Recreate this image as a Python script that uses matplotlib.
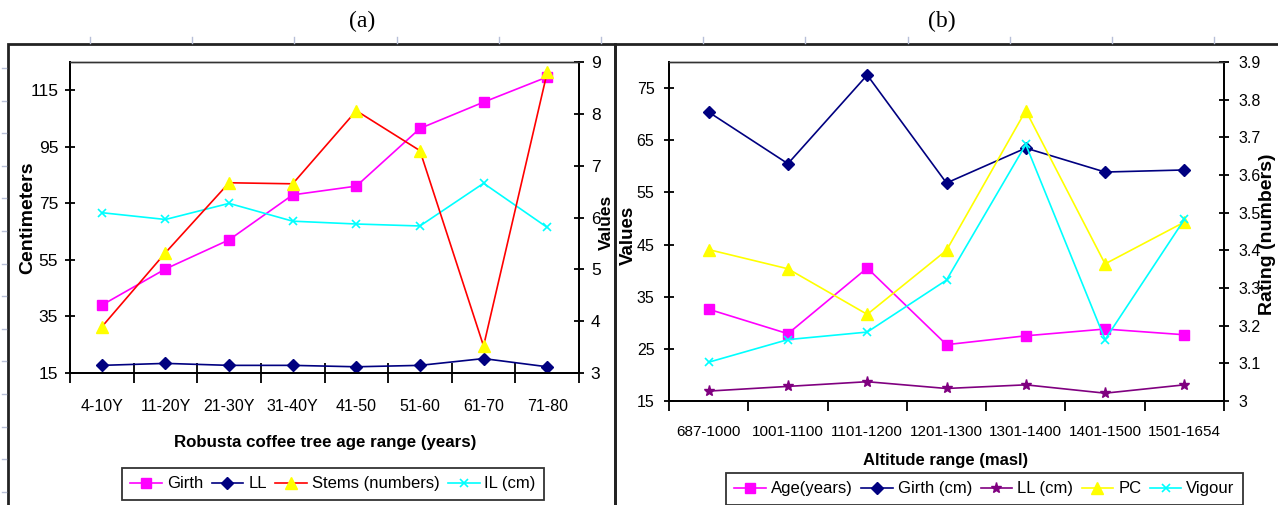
import matplotlib
matplotlib.use("Agg")
import matplotlib.pyplot as plt
from matplotlib.patches import Rectangle
from matplotlib.lines import Line2D
import numpy as np

plt.rcParams['font.family'] = ['Liberation Sans', 'DejaVu Sans']

# (a) growth traits by tree age
age_ranges = ['4-10Y', '11-20Y', '21-30Y', '31-40Y', '41-50', '51-60', '61-70', '71-80']
girth_a = [39.0, 51.8, 62.1, 78.0, 81.1, 101.5, 110.8, 119.7]
ll_a = [17.7, 18.4, 17.7, 17.7, 17.2, 17.7, 20.1, 17.2]
stems_a = [3.89, 5.32, 6.67, 6.65, 8.06, 7.29, 3.52, 8.80]
il_a = [71.7, 69.3, 75.0, 68.7, 67.7, 67.0, 82.1, 66.5]

# (b) traits by altitude band
alt_ranges = ['687-1000', '1001-1100', '1101-1200', '1201-1300', '1301-1400', '1401-1500', '1501-1654']
age_b = [32.6, 27.9, 40.5, 25.8, 27.5, 28.8, 27.7]
girth_b = [70.4, 60.5, 77.5, 56.8, 63.5, 58.9, 59.3]
ll_b = [16.9, 17.8, 18.7, 17.4, 18.1, 16.5, 18.1]
pc_b = [3.402, 3.351, 3.23, 3.40, 3.771, 3.364, 3.475]
vigour_b = [3.103, 3.163, 3.183, 3.321, 3.681, 3.163, 3.482]

W, H = 1278, 505


def fx(px):
    return px / W


def fy(py):
    return 1 - py / H


def style_axes(ax, n, xpad, xfs, xtick_len, xtick_dir, tick_fs, ypad):
    ax.set_xlim(-0.5, n - 0.5)
    ax.set_xticks(np.arange(n))
    ax.tick_params(axis='x', length=0, pad=xpad, labelsize=xfs)
    ax.set_xticks(np.arange(n + 1) - 0.5, minor=True)
    ax.tick_params(axis='x', which='minor', length=xtick_len, direction=xtick_dir, width=1.3)
    ax.tick_params(axis='y', direction='inout', length=7, width=1.3, labelsize=tick_fs, pad=ypad)
    for s in ax.spines.values():
        s.set_linewidth(1.3)
    ax.spines['top'].set_color('#333333')
    ax.spines['top'].set_linewidth(1.0)


def style_right(ax, fs, pad):
    ax.tick_params(axis='y', direction='inout', length=7, width=1.3, labelsize=fs, pad=pad)
    for s in ax.spines.values():
        s.set_linewidth(1.3)
    ax.spines['top'].set_color('#333333')
    ax.spines['top'].set_linewidth(1.0)


fig = plt.figure(figsize=(12.78, 5.05), dpi=100)

# outer chart frames
fig.patches.append(Rectangle((fx(8), fy(512)), fx(615) - fx(8), (512 - 44) / H,
                             transform=fig.transFigure, fill=False, lw=2, ec='#222222'))
fig.patches.append(Rectangle((fx(615), fy(512)), fx(1282) - fx(615), (512 - 44) / H,
                             transform=fig.transFigure, fill=False, lw=2, ec='#222222'))

# faint ruler marks
for x in np.arange(90, 1278, 102.2):
    fig.lines.append(Line2D([fx(x), fx(x)], [fy(37), fy(43)], transform=fig.transFigure,
                            color='#b8c0d8', lw=1))
for y in np.arange(68, 505, 32.6):
    fig.lines.append(Line2D([fx(2), fx(6)], [fy(y), fy(y)], transform=fig.transFigure,
                            color='#b8c0d8', lw=1))

# ---- panel (a)
ax1 = fig.add_axes([fx(70), fy(373), (579 - 70) / W, (373 - 62) / H])
x_a = np.arange(len(age_ranges))
l_girth, = ax1.plot(x_a, girth_a, color='#ff00ff', marker='s', ms=7, lw=1.2, label='Girth')
l_ll, = ax1.plot(x_a, ll_a, color='#000080', marker='D', ms=6, lw=1.2, label='LL')
l_il, = ax1.plot(x_a, il_a, color='#00ffff', marker='x', ms=6, mew=1.2, lw=1.2, label='IL (cm)')
ax1.set_ylim(15, 125)
ax1.set_yticks([15, 35, 55, 75, 95, 115])
ax1.set_xticklabels(age_ranges)
style_axes(ax1, len(age_ranges), 19, 11.5, 14, 'inout', 12.5, 5)

ax1r = ax1.twinx()
l_stems, = ax1r.plot(x_a, stems_a, color='#ff0000', marker='^', ms=8, mfc='#ffff00', mec='#ffff00',
                     lw=1.2, label='Stems (numbers)')
ax1r.set_ylim(3, 9)
ax1r.set_yticks(range(3, 10))
style_right(ax1r, 12.5, 5)

fig.text(fx(28), fy(218), 'Centimeters', rotation=90, ha='center', va='center', fontsize=14,
         fontweight='bold')
fig.text(fx(606), fy(222), 'Values', rotation=90, ha='center', va='center', fontsize=12.5,
         fontweight='bold')
fig.text(fx(325), fy(443), 'Robusta coffee tree age range (years)', ha='center', va='center',
         fontsize=12.2, fontweight='bold')
fig.text(fx(362), fy(21), '(a)', ha='center', va='center', fontsize=17, family='Liberation Serif')

leg_a = fig.legend(handles=[l_girth, l_ll, l_stems, l_il], loc='upper left', ncol=4,
                   bbox_to_anchor=(fx(122), fy(468)), fontsize=12, frameon=True, fancybox=False,
                   handlelength=1.9, handletextpad=0.3, borderaxespad=0, borderpad=0.5,
                   columnspacing=0.5)
leg_a.get_frame().set_edgecolor('black')
leg_a.get_frame().set_linewidth(1.3)

# ---- panel (b)
ax2 = fig.add_axes([fx(669), fy(401), (1224 - 669) / W, (401 - 62) / H])
x_b = np.arange(len(alt_ranges))
l_age, = ax2.plot(x_b, age_b, color='#ff00ff', marker='s', ms=7, lw=1.2, label='Age(years)')
l_girth_b, = ax2.plot(x_b, girth_b, color='#000080', marker='D', ms=6, lw=1.2, label='Girth (cm)')
l_ll_b, = ax2.plot(x_b, ll_b, color='#800080', marker='*', ms=8, lw=1.2, label='LL (cm)')
ax2.set_ylim(15, 80)
ax2.set_yticks([15, 25, 35, 45, 55, 65, 75])
ax2.set_xticklabels(alt_ranges)
style_axes(ax2, len(alt_ranges), 17, 11, 7, 'out', 11.5, 7)

ax2r = ax2.twinx()
l_pc, = ax2r.plot(x_b, pc_b, color='#ffff00', marker='^', ms=8, lw=1.2, label='PC')
l_vig, = ax2r.plot(x_b, vigour_b, color='#00ffff', marker='x', ms=6, mew=1.2, lw=1.2, label='Vigour')
ax2r.set_ylim(3, 3.9)
ax2r.set_yticks(np.round(np.arange(3.0, 3.95, 0.1), 1))
ax2r.set_yticklabels(['3', '3.1', '3.2', '3.3', '3.4', '3.5', '3.6', '3.7', '3.8', '3.9'])
style_right(ax2r, 11.5, 7)

fig.text(fx(628), fy(235), 'Values', rotation=90, ha='center', va='center', fontsize=13.5,
         fontweight='bold')
fig.text(fx(1268), fy(234), 'Rating (numbers)', rotation=90, ha='center', va='center',
         fontsize=14, fontweight='bold')
fig.text(fx(946), fy(460), 'Altitude range (masl)', ha='center', va='center', fontsize=12,
         fontweight='bold')
fig.text(fx(942), fy(21), '(b)', ha='center', va='center', fontsize=17, family='Liberation Serif')

leg_b = fig.legend(handles=[l_age, l_girth_b, l_ll_b, l_pc, l_vig], loc='upper left', ncol=5,
                   bbox_to_anchor=(fx(726), fy(473)), fontsize=12, frameon=True, fancybox=False,
                   handlelength=1.9, handletextpad=0.3, borderaxespad=0, borderpad=0.5,
                   columnspacing=0.5)
leg_b.get_frame().set_edgecolor('black')
leg_b.get_frame().set_linewidth(1.3)

fig.savefig('out.png', dpi=100)
